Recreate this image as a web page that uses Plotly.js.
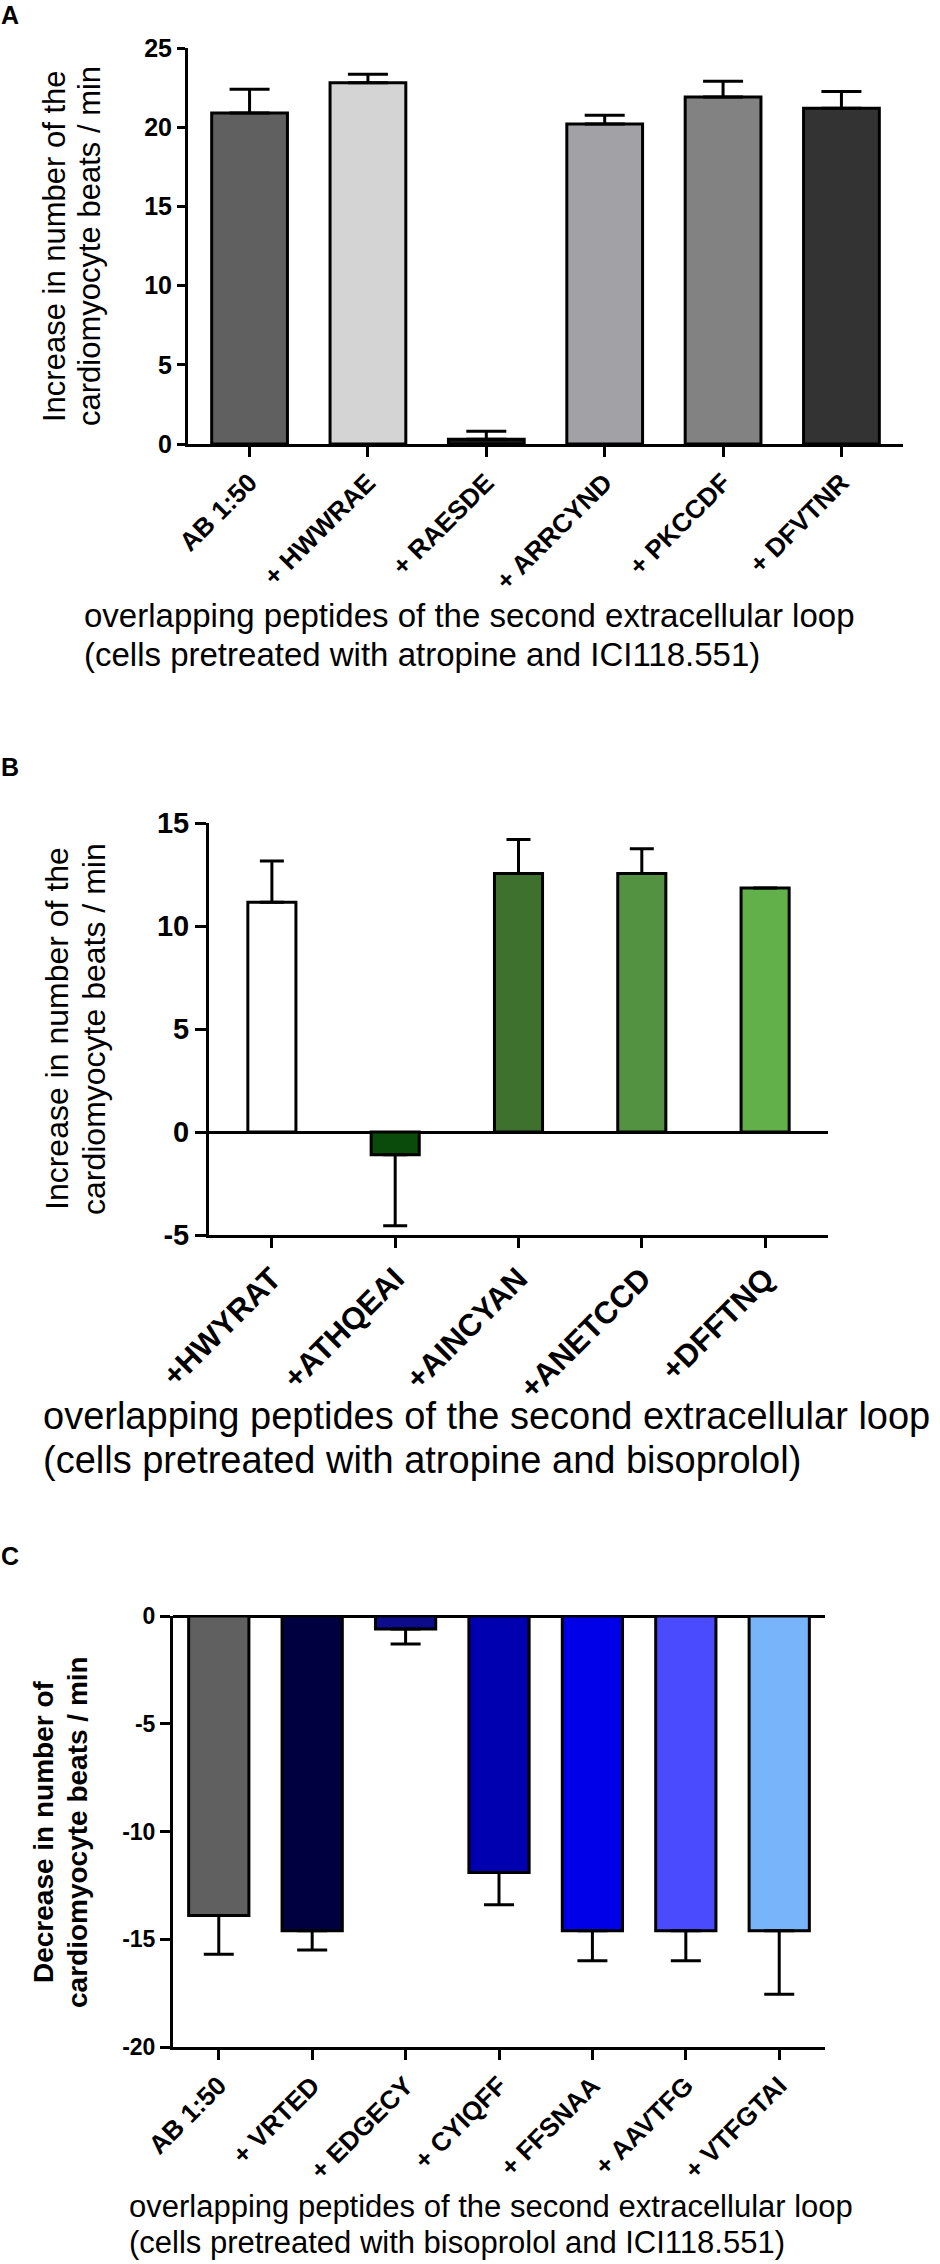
<!DOCTYPE html>
<html>
<head>
<meta charset="utf-8">
<script src="https://cdn.plot.ly/plotly-3.0.1.min.js"></script>
<style>
  html, body { margin: 0; padding: 0; background: #fff; }
  #chart { width: 940px; height: 2264px; }
</style>
</head>
<body>
<div id="chart"></div>
<script>
// panel A - atropine + ICI118.551
const catsA = ['AB 1:50', '+ HWWRAE', '+ RAESDE', '+ ARRCYND', '+ PKCCDF', '+ DFVTNR'];
const meanA = [20.9, 22.8, 0.3, 20.2, 21.9, 21.2];
const semA = [1.5, 0.55, 0.5, 0.55, 1.0, 1.05];
const yTicksA = [0, 5, 10, 15, 20, 25];

// panel B - atropine + bisoprolol
const catsB = ['+HWYRAT', '+ATHQEAI', '+AINCYAN', '+ANETCCD', '+DFFTNQ'];
const meanB = [11.15, -1.1, 12.55, 12.55, 11.85];
const semB = [2.0, 3.45, 1.65, 1.2, 0];
const yTicksB = [-5, 0, 5, 10, 15];

// panel C - bisoprolol + ICI118.551
const catsC = ['AB 1:50', '+ VRTED', '+ EDGECY', '+ CYIQFF', '+ FFSNAA', '+ AAVTFG', '+ VTFGTAI'];
const meanC = [-13.9, -14.6, -0.6, -11.9, -14.6, -14.6, -14.6];
const semC = [1.8, 0.9, 0.7, 1.5, 1.4, 1.4, 2.95];
const yTicksC = [-20, -15, -10, -5, 0];

const colorsA = ['#606060', '#d4d4d4', '#1a1a1a', '#a2a1a6', '#828282', '#333333'];
const colorsB = ['#ffffff', '#0a4a0a', '#3e702e', '#529240', '#62b04a'];
const colorsC = ['#606060', '#000040', '#0c0c8c', '#0000b0', '#0000e8', '#4a4aff', '#78b4fa'];

const W = 940, H = 2264;
const FONT = 'Liberation Sans, Arial, sans-serif';
const px = p => p / W;
const py = p => 1 - p / H;

function barTrace(cats, means, sems, colors, xa, ya, width, cap) {
  return {
    type: 'bar',
    x: cats,
    y: means,
    xaxis: xa,
    yaxis: ya,
    width: width,
    marker: { color: colors, line: { color: 'black', width: 3 } },
    error_y: {
      type: 'data',
      symmetric: false,
      array: means.map((m, i) => m >= 0 ? sems[i] : 0),
      arrayminus: means.map((m, i) => m < 0 ? sems[i] : 0),
      color: 'black',
      thickness: 3,
      width: cap
    },
    hoverinfo: 'x+y',
    showlegend: false
  };
}

function yAxis(dom, anchor, ticks, size, len, zl) {
  return {
    domain: dom, anchor: anchor,
    range: [ticks[0], ticks[ticks.length - 1]],
    tickvals: ticks, ticktext: ticks.map(String),
    ticks: 'outside', ticklen: len, tickwidth: 3, tickcolor: 'black',
    showline: true, linewidth: 3, linecolor: 'black',
    showgrid: false, zeroline: zl, zerolinecolor: 'black', zerolinewidth: 3,
    tickfont: { family: FONT, size: size, color: 'black', weight: 'bold' },
    fixedrange: true
  };
}

function xAxis(dom, anchor, n, pad, size) {
  return {
    domain: dom, anchor: anchor, type: 'category',
    range: [-pad, n - 1 + pad],
    ticks: 'outside', ticklen: 10, tickwidth: 3, tickcolor: 'black',
    showline: true, linewidth: 3, linecolor: 'black',
    showgrid: false, zeroline: false,
    tickangle: -45,
    tickfont: { family: FONT, size: size, color: 'black', weight: 'bold' },
    fixedrange: true
  };
}

function note(text, x, y, size, opts) {
  return Object.assign({
    text: text, xref: 'paper', yref: 'paper', x: px(x), y: py(y),
    showarrow: false, xanchor: 'left', yanchor: 'middle', borderpad: 0,
    font: { family: FONT, size: size, color: 'black' }
  }, opts || {});
}

function vnote(text, x, y, size, bold) {
  return note(text, x, y, size, {
    textangle: -90, xanchor: 'center',
    font: { family: FONT, size: size, color: 'black', weight: bold ? 'bold' : 'normal' }
  });
}

const data = [
  barTrace(catsA, meanA, semA, colorsA, 'x', 'y', 0.64, 20),
  barTrace(catsB, meanB, semB, colorsB, 'x2', 'y2', 0.39, 12),
  barTrace(catsC, meanC, semC, colorsC, 'x3', 'y3', 0.645, 15)
];

const layout = {
  width: W, height: H,
  margin: { l: 0, r: 0, t: 0, b: 0 },
  paper_bgcolor: 'white', plot_bgcolor: 'white',
  showlegend: false,
  xaxis: xAxis([px(188), px(903)], 'y', catsA.length, 0.52, 26),
  yaxis: yAxis([py(444), py(48)], 'x', yTicksA, 25, 8, false),
  xaxis2: xAxis([px(209), px(828)], 'y2', catsB.length, 0.51, 31),
  yaxis2: yAxis([py(1235), py(823)], 'x2', yTicksB, 29, 11, true),
  xaxis3: xAxis([px(173), px(825)], 'y3', catsC.length, 0.49, 26),
  yaxis3: yAxis([py(2047), py(1616)], 'x3', yTicksC, 23, 10, true),
  annotations: [
    note('<b>A</b>', 10, 15, 25, { xanchor: 'center' }),
    note('<b>B</b>', 10, 767, 25, { xanchor: 'center' }),
    note('<b>C</b>', 10, 1556, 25, { xanchor: 'center' }),

    vnote('Increase in number of the', 54, 246, 31),
    vnote('cardiomyocyte beats / min', 89, 246, 31),
    note('overlapping peptides of the second extracellular loop', 83, 616, 33),
    note('(cells pretreated with atropine and ICI118.551)', 83, 654, 33),

    vnote('Increase in number of the', 57, 1029, 32),
    vnote('cardiomyocyte beats / min', 94, 1029, 32),
    note('overlapping peptides of the second extracellular loop', 42, 1416, 38),
    note('(cells pretreated with atropine and bisoprolol)', 42, 1460, 38),

    vnote('Decrease in number of', 43, 1832, 28, true),
    vnote('cardiomyocyte beats / min', 77, 1832, 28, true),
    note('overlapping peptides of the second extracellular loop', 128, 2206, 31),
    note('(cells pretreated with bisoprolol and ICI118.551)', 128, 2242, 31)
  ]
};

Plotly.newPlot('chart', data, layout, { displayModeBar: false, staticPlot: true });
</script>
</body>
</html>
